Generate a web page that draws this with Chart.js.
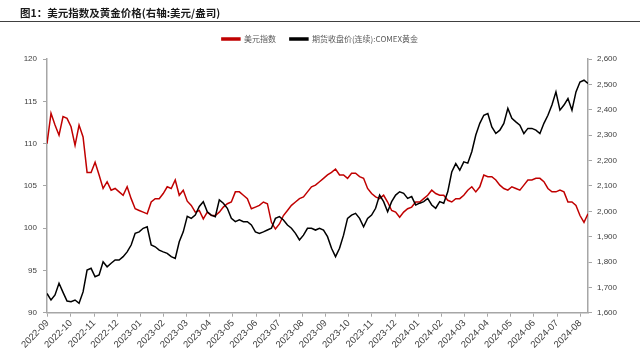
<!DOCTYPE html>
<html>
<head>
<meta charset="utf-8">
<script src="https://cdn.jsdelivr.net/npm/chart.js@4.4.1/dist/chart.umd.min.js"></script>
<style>
  html, body { margin: 0; padding: 0; background: #fff; }
  #wrap { width: 640px; height: 352px; position: relative; }
</style>
</head>
<body>
<div id="wrap"><canvas id="chart"></canvas></div>
<script>
// --- chart data ---
const chartTitle = '图1：美元指数及黄金价格(右轴:美元/盎司)';
const seriesNames = ['美元指数', '期货收盘价(连续):COMEX黄金'];

const xLabels = ['2022-09', '2022-10', '2022-11', '2022-12', '2023-01', '2023-02',
    '2023-03', '2023-04', '2023-05', '2023-06', '2023-07', '2023-08', '2023-09',
    '2023-10', '2023-11', '2023-12', '2024-01', '2024-02', '2024-03', '2024-04',
    '2024-05', '2024-06', '2024-07', '2024-08'];

// dollar index (left axis), roughly every 3.5 trading days
const dxy = [
    110.0, 113.6, 112.2, 111.0, 113.2, 113.0, 112.0, 109.8, 112.2, 110.8,
    106.6, 106.6, 107.8, 106.3, 104.7, 105.5, 104.5, 104.7, 104.3, 103.9,
    104.9, 103.5, 102.3, 102.1, 101.9, 101.7, 103.1, 103.5, 103.5, 104.1,
    104.9, 104.7, 105.7, 103.9, 104.5, 103.2, 102.7, 101.9, 102.1, 101.1,
    101.9, 101.5, 101.5, 101.9, 102.5, 102.9, 103.1, 104.3, 104.3, 103.9,
    103.5, 102.3, 102.5, 102.7, 103.1, 102.9, 100.7, 99.9, 100.5, 101.5,
    102.1, 102.7, 103.1, 103.5, 103.7, 104.3, 104.9, 105.1, 105.5, 105.9,
    106.3, 106.6, 107.0, 106.3, 106.3, 105.9, 106.5, 106.5, 106.1, 105.9,
    104.7, 104.1, 103.7, 103.5, 103.9, 103.1, 102.1, 101.9, 101.3, 101.9,
    102.3, 102.5, 103.1, 103.1, 103.5, 103.9, 104.5, 104.1, 103.9, 103.9,
    103.3, 103.1, 103.5, 103.5, 103.9, 104.5, 104.9, 104.3, 104.9, 106.3,
    106.1, 106.1, 105.7, 105.1, 104.7, 104.5, 104.9, 104.7, 104.5, 105.1,
    105.7, 105.7, 105.9, 105.9, 105.5, 104.7, 104.3, 104.3, 104.5, 104.3,
    103.1, 103.1, 102.7, 101.5, 100.7, 101.7
];

// COMEX gold continuous futures close (right axis)
const gold = [
    1676, 1650, 1670, 1716, 1680, 1646, 1643, 1650, 1637, 1682,
    1768, 1775, 1742, 1749, 1801, 1781, 1795, 1808, 1808, 1821,
    1840, 1867, 1913, 1919, 1933, 1939, 1867, 1860, 1847, 1840,
    1834, 1821, 1814, 1880, 1919, 1980, 1972, 1985, 2019, 2038,
    1998, 1985, 1979, 2045, 2032, 2012, 1972, 1959, 1966, 1959,
    1959, 1946, 1919, 1913, 1919, 1926, 1933, 1972, 1979, 1966,
    1946, 1933, 1913, 1887, 1906, 1933, 1933, 1926, 1933, 1926,
    1900, 1854, 1821, 1854, 1906, 1972, 1985, 1992, 1972, 1939,
    1972, 1985, 2012, 2064, 2038, 1998, 2038, 2064, 2077, 2071,
    2051, 2058, 2025, 2032, 2038, 2051, 2025, 2012, 2038, 2032,
    2077, 2155, 2188, 2162, 2195, 2190, 2235, 2301, 2347, 2379,
    2386, 2333, 2307, 2320, 2347, 2406, 2367, 2353, 2340, 2307,
    2327, 2327, 2320, 2307, 2347, 2379, 2419, 2471, 2399, 2419,
    2445, 2399, 2471, 2510, 2517, 2504
];

// month labels sit every 21 trading days, i.e. every ~5.78 samples
const tickStart = 0.175;
const tickStep = 5.778;

const axisColor = '#a6a6a6';
const tickFont = { family: '"Liberation Sans", Arial, sans-serif', size: 8 };
const dateFont = { family: '"Liberation Sans", Arial, sans-serif', size: 9.5 };
const tickColor = '#404040';

// title + rule above the legend
const titlePlugin = {
    id: 'reportTitle',
    beforeDraw(chart) {
        const ctx = chart.ctx;
        ctx.save();
        ctx.fillStyle = '#1a1a1a';
        ctx.font = 'bold 10.5px "Noto Sans CJK SC"';
        ctx.textBaseline = 'middle';
        ctx.textAlign = 'left';
        ctx.fillText(chartTitle, 20, 13.5);
        ctx.strokeStyle = '#404040';
        ctx.lineWidth = 1;
        ctx.beginPath();
        ctx.moveTo(0, 21.5);
        ctx.lineTo(640, 21.5);
        ctx.stroke();
        ctx.restore();
    }
};

new Chart(document.getElementById('chart'), {
    type: 'line',
    data: {
        datasets: [
            {
                label: seriesNames[0],
                data: dxy.map((v, i) => ({ x: i, y: v })),
                borderColor: '#C00000',
                backgroundColor: '#C00000',
                borderWidth: 1.5,
                pointRadius: 0,
                tension: 0,
                yAxisID: 'y',
                order: 1
            },
            {
                label: seriesNames[1],
                data: gold.map((v, i) => ({ x: i, y: v })),
                borderColor: '#000000',
                backgroundColor: '#000000',
                borderWidth: 1.5,
                pointRadius: 0,
                tension: 0,
                yAxisID: 'y2',
                order: 0
            }
        ]
    },
    options: {
        responsive: true,
        maintainAspectRatio: false,
        animation: false,
        layout: { padding: { top: 21, left: 0, right: 0, bottom: 0 } },
        plugins: {
            tooltip: { enabled: false },
            title: { display: false },
            // empty box used as spacer between legend and plot
            subtitle: {
                display: true,
                text: '',
                weight: 500,
                font: { size: 1 },
                padding: { top: 0, bottom: 5 }
            },
            legend: {
                display: true,
                position: 'top',
                labels: {
                    boxWidth: 18,
                    boxHeight: 2,
                    padding: 14,
                    color: '#595959',
                    font: { family: '"Noto Sans CJK SC"', size: 8 },
                    sort: (a, b) => a.datasetIndex - b.datasetIndex
                }
            }
        },
        scales: {
            x: {
                type: 'linear',
                min: 0,
                max: dxy.length - 1,
                grid: { display: true, drawOnChartArea: false, tickLength: 4, color: axisColor },
                border: { display: true, color: axisColor, width: 1.5 },
                afterBuildTicks(scale) {
                    scale.ticks = xLabels.map((_, k) => ({ value: tickStart + tickStep * k }));
                },
                ticks: {
                    autoSkip: false,
                    maxRotation: 45,
                    minRotation: 45,
                    padding: 1,
                    font: dateFont,
                    color: tickColor,
                    callback: (v, i) => xLabels[i]
                },
                afterFit(scale) { scale.height = 39.3; }
            },
            y: {
                position: 'left',
                min: 90,
                max: 120,
                grid: { display: true, drawOnChartArea: false, tickLength: 4, color: axisColor },
                border: { display: true, color: axisColor, width: 1.5 },
                ticks: { stepSize: 5, padding: 6, font: tickFont, color: tickColor },
                afterFit(scale) { scale.width = 47; }
            },
            y2: {
                position: 'right',
                min: 1600,
                max: 2600,
                grid: { display: true, drawOnChartArea: false, tickLength: 4, color: axisColor },
                border: { display: true, color: axisColor, width: 1.5 },
                ticks: {
                    stepSize: 100,
                    padding: 5,
                    font: tickFont,
                    color: tickColor,
                    callback: v => v.toLocaleString('en-US')
                },
                afterFit(scale) { scale.width = 52; }
            }
        }
    },
    plugins: [titlePlugin]
});
</script>
</body>
</html>
